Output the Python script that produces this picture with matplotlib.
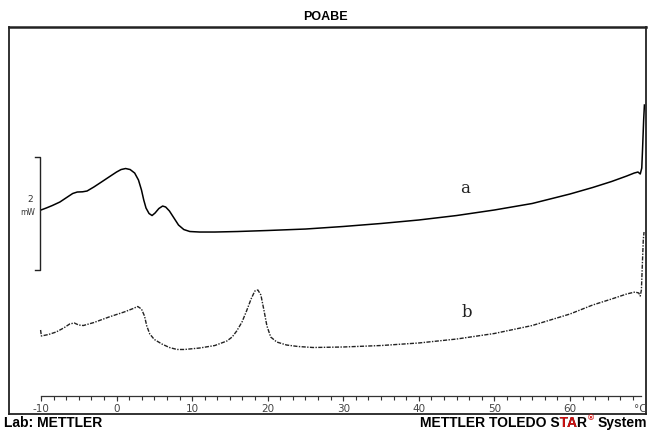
import numpy as np
import matplotlib
matplotlib.use("Agg")
import matplotlib.pyplot as plt
from matplotlib.transforms import Bbox, TransformedBbox

# DSC curves of POABE, temperature in degC, heat flow in mW (arbitrary offset)
temp_a = [-10.0, -9.3, -8.5, -7.5, -6.5, -5.8, -5.2, -4.5, -3.9, -3.0, -2.0, -1.0,
          0.0, 0.6, 1.2, 1.8, 2.4, 2.9, 3.3, 3.6, 3.9, 4.3, 4.7, 5.1, 5.6, 6.1,
          6.5, 7.0, 7.6, 8.2, 8.9, 9.7, 11.0, 13.0, 16.0, 20.0, 25.0, 30.0, 35.0,
          40.0, 45.0, 50.0, 55.0, 60.0, 63.0, 65.5, 67.5, 68.5, 69.0, 69.3, 69.5,
          69.6, 69.75, 69.85]
flow_a = [3.611, 3.646, 3.690, 3.752, 3.841, 3.903, 3.929, 3.933, 3.947, 4.018,
          4.106, 4.195, 4.283, 4.327, 4.345, 4.327, 4.265, 4.142, 3.965, 3.788,
          3.646, 3.549, 3.513, 3.558, 3.637, 3.681, 3.664, 3.593, 3.469, 3.345,
          3.265, 3.230, 3.221, 3.221, 3.230, 3.248, 3.274, 3.319, 3.372, 3.434,
          3.513, 3.611, 3.726, 3.894, 4.009, 4.115, 4.212, 4.265, 4.283, 4.248,
          4.354, 4.673, 5.204, 5.469]

temp_b = [-10.05, -9.95, -9.0, -8.0, -7.0, -6.2, -5.6, -5.0, -4.4, -3.0, -1.0,
          1.0, 2.2, 2.8, 3.3, 3.7, 4.0, 4.4, 5.0, 6.0, 7.0, 8.0, 9.0, 11.0, 13.0,
          14.6, 15.3, 15.9, 16.6, 17.2, 17.8, 18.3, 18.7, 19.1, 19.5, 19.9, 20.4,
          21.2, 22.5, 24.0, 26.0, 30.0, 35.0, 40.0, 45.0, 50.0, 55.0, 60.0, 63.0,
          65.5, 67.5, 68.6, 69.1, 69.3, 69.45, 69.55, 69.7, 69.8]
flow_b = [1.487, 1.381, 1.407, 1.451, 1.522, 1.593, 1.611, 1.575, 1.566, 1.619,
          1.717, 1.805, 1.867, 1.903, 1.858, 1.735, 1.558, 1.416, 1.319, 1.239,
          1.177, 1.142, 1.142, 1.168, 1.212, 1.292, 1.363, 1.469, 1.628, 1.823,
          2.035, 2.177, 2.195, 2.106, 1.841, 1.558, 1.363, 1.274, 1.221, 1.195,
          1.177, 1.186, 1.212, 1.257, 1.327, 1.425, 1.566, 1.770, 1.929, 2.035,
          2.124, 2.159, 2.142, 2.088, 2.195, 2.549, 3.080, 3.221]

major_ticks = [-10, 0, 10, 20, 30, 40, 50, 60]
tick_labels = ["-10", "0", "10", "20", "30", "40", "50", "60"]
scale_mw = 2

fig = plt.figure(figsize=(6.48, 4.30), dpi=100)
ax = fig.add_axes([9 / 648, 16 / 430, 637 / 648, 387 / 430])
ax.set_xlim(-14.23, 70.06)
ax.set_ylim(0, 6.85)
ax.set_xticks([])
ax.set_yticks([])
for s in ax.spines.values():
    s.set_linewidth(1.3)
    s.set_color("#222222")
ax.spines["top"].set_linewidth(1.8)

ax.plot(temp_a, flow_a, color="black", lw=1.1)
ax.plot(temp_b, flow_b, color="#222222", lw=1.0, ls=(0, (3, 1, 1, 1)))

# inner temperature axis
y_axis = 0.319
ax.plot([-10, 69.4], [y_axis, y_axis], color="#333333", lw=0.9)
minor = np.arange(-10, 69.5, 10 / 6)
ax.vlines(minor, y_axis - 0.065, y_axis, color="#333333", lw=0.8)
ax.vlines(major_ticks, y_axis - 0.085, y_axis, color="#333333", lw=0.8)
for t, lab in zip(major_ticks, tick_labels):
    ax.text(t, 0.09, lab, ha="center", va="center", fontsize=7.5,
            color="#444444", family="DejaVu Sans")
ax.text(69.3, 0.09, "°C", ha="center", va="center", fontsize=7.5,
        color="#444444", family="DejaVu Sans")

# mW scale bar
bar_x = -10.13
bar_lo = 2.549
ax.plot([-10.8, bar_x, bar_x, -10.8], [bar_lo, bar_lo, bar_lo + scale_mw, bar_lo + scale_mw],
        color="#222222", lw=1.0)
ax.text(-11.45, 3.79, str(scale_mw), ha="center", va="center", fontsize=6.5,
        color="#333333")
ax.text(-11.7, 3.56, "mW", ha="center", va="center", fontsize=5.5, color="#333333")

ax.text(46.1, 4.0, "a", ha="center", va="center", fontsize=12,
        family="DejaVu Serif", color="#222222")
ax.text(46.4, 1.8, "b", ha="center", va="center", fontsize=12,
        family="DejaVu Serif", color="#222222")

fig.text(325 / 648, 1 - 17 / 430, "POABE", ha="center", va="center",
         fontsize=9, fontweight="bold", family="Liberation Sans")
fig.text(4 / 648, 1 - 423 / 430, "Lab: METTLER", ha="left", va="center",
         fontsize=10, fontweight="bold", family="Liberation Sans")

# footer: black string, with the same string in red on top, clipped to "TA"
renderer = fig.canvas.get_renderer()
red = "#d01010"
font = dict(fontweight="bold", family="Liberation Sans", va="center")


def width(txt, size=10):
    t = fig.text(0, 0, txt, fontsize=size, **font)
    w = t.get_window_extent(renderer).width
    t.remove()
    return w


head = "METTLER TOLEDO STAR"
w_head = width(head)
w_reg = width("®", 6)
w_sys = width("System")
w_space = 3.5
x0 = 647 - (w_head + 1 + w_reg + w_space + w_sys)
yc = (430 - 423) / 430

fig.text(x0 / 648, yc, head, ha="left", fontsize=10, color="black", **font)
red_txt = fig.text(x0 / 648, yc, head, ha="left", fontsize=10, color=red, **font)
x1 = x0 + width("METTLER TOLEDO S") + 0.6
x2 = x0 + width("METTLER TOLEDO STA") + 0.6
red_txt.set_clip_box(TransformedBbox(Bbox.from_extents(x1 / 648, 0, x2 / 648, 0.1),
                                     fig.transFigure))
red_txt.set_clip_on(True)
fig.text((x0 + w_head + 1) / 648, yc + 4 / 430, "®", ha="left", fontsize=6,
         color=red, **font)
fig.text(647 / 648, yc, "System", ha="right", fontsize=10, color="black", **font)

fig.savefig("out.png", dpi=100)
